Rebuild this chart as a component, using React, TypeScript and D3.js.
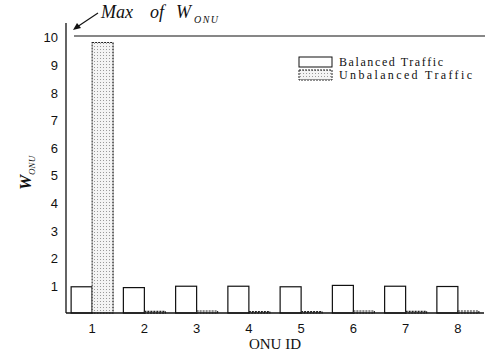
import { useRef, useEffect } from "react";
import * as d3 from "d3";

const onuIds = ["1", "2", "3", "4", "5", "6", "7", "8"];
const balanced = [0.95, 0.92, 0.97, 0.97, 0.95, 1.0, 0.97, 0.96];
const unbalanced = [9.8, 0.06, 0.07, 0.05, 0.05, 0.07, 0.06, 0.07];
const yTicks = [1, 2, 3, 4, 5, 6, 7, 8, 9, 10];
const seriesNames = ["Balanced Traffic", "Unbalanced Traffic"];
const maxW = 10;

const serif = "Liberation Serif, Times New Roman, serif";
const sans = "Liberation Sans, Arial, sans-serif";

export default function App() {
  const svgRef = useRef<SVGSVGElement>(null);

  useEffect(() => {
    if (!svgRef.current) return;
    const width = 485;
    const height = 353;
    const svg = d3.select(svgRef.current);
    svg.selectAll("*").remove();
    svg.attr("width", width).attr("height", height);

    const left = 66;
    const right = 484;
    const x = d3.scaleBand<string>().domain(onuIds).range([left, right]).padding(0);
    const y = d3.scaleLinear().domain([0, 10]).range([313, 37]);
    const barW = 21;

    // dotted fill for the unbalanced bars
    const pat = svg
      .append("defs")
      .append("pattern")
      .attr("id", "dots")
      .attr("width", 3)
      .attr("height", 3)
      .attr("patternUnits", "userSpaceOnUse");
    pat.append("rect").attr("width", 3).attr("height", 3).attr("fill", "#f4f4f4");
    pat.append("rect").attr("x", 1).attr("y", 1).attr("width", 1).attr("height", 1).attr("fill", "#9a9a9a");

    const center = (d: string) => x(d)! + x.bandwidth() / 2;

    // balanced bars (left of tick)
    svg
      .append("g")
      .selectAll("rect")
      .data(balanced)
      .join("rect")
      .attr("x", (_, i) => center(onuIds[i]) - barW)
      .attr("y", (d) => y(d))
      .attr("width", barW)
      .attr("height", (d) => y(0) - y(d))
      .attr("fill", "#fff")
      .attr("stroke", "#111")
      .attr("stroke-width", 1.2);

    // unbalanced bars (right of tick)
    svg
      .append("g")
      .selectAll("rect")
      .data(unbalanced)
      .join("rect")
      .attr("x", (_, i) => center(onuIds[i]))
      .attr("y", (d) => y(d))
      .attr("width", barW)
      .attr("height", (d) => y(0) - y(d))
      .attr("fill", "url(#dots)")
      .attr("stroke", "#222")
      .attr("stroke-width", 1.1)
      .attr("stroke-dasharray", "2,1");

    // axis lines
    svg
      .append("line")
      .attr("x1", left)
      .attr("x2", left)
      .attr("y1", 23)
      .attr("y2", y(0))
      .attr("stroke", "#111")
      .attr("stroke-width", 1.3);
    svg
      .append("line")
      .attr("x1", left)
      .attr("x2", right)
      .attr("y1", y(0))
      .attr("y2", y(0))
      .attr("stroke", "#111")
      .attr("stroke-width", 1.5);

    // max line
    svg
      .append("line")
      .attr("x1", 74)
      .attr("x2", width)
      .attr("y1", y(maxW) - 1)
      .attr("y2", y(maxW) - 1)
      .attr("stroke", "#111")
      .attr("stroke-width", 1.2);

    // y tick labels
    svg
      .append("g")
      .selectAll("text")
      .data(yTicks)
      .join("text")
      .attr("x", 58)
      .attr("y", (d) => y(d) + 2)
      .attr("text-anchor", "end")
      .attr("dominant-baseline", "middle")
      .attr("font-family", sans)
      .attr("font-size", 13)
      .attr("fill", "#111")
      .text((d) => d);

    // x tick labels
    svg
      .append("g")
      .selectAll("text")
      .data(onuIds)
      .join("text")
      .attr("x", (d) => center(d))
      .attr("y", 333)
      .attr("text-anchor", "middle")
      .attr("font-family", sans)
      .attr("font-size", 13)
      .attr("fill", "#111")
      .text((d) => d);

    // x title
    svg
      .append("text")
      .attr("x", 275)
      .attr("y", 349)
      .attr("text-anchor", "middle")
      .attr("font-family", serif)
      .attr("font-size", 15)
      .attr("fill", "#111")
      .text("ONU ID");

    // y title
    const yt = svg
      .append("text")
      .attr("transform", "translate(31,190) rotate(-90)")
      .attr("font-family", serif)
      .attr("font-style", "italic")
      .attr("font-weight", "bold")
      .attr("font-size", 17)
      .attr("fill", "#111");
    yt.append("tspan").text("W");
    yt.append("tspan").attr("font-size", 9).attr("font-weight", "normal").attr("dy", 4).text("ONU");

    // "Max of W_ONU" annotation
    const ann = svg
      .append("g")
      .attr("font-family", serif)
      .attr("font-style", "italic")
      .attr("fill", "#111");
    ann.append("text").attr("x", 101).attr("y", 18).attr("font-size", 18).text("Max");
    ann.append("text").attr("x", 150).attr("y", 18).attr("font-size", 18).text("of");
    ann.append("text").attr("x", 176).attr("y", 18).attr("font-size", 18).text("W");
    ann
      .append("text")
      .attr("x", 194)
      .attr("y", 23)
      .attr("font-size", 10)
      .attr("textLength", 24)
      .attr("lengthAdjust", "spacing")
      .text("ONU");

    svg
      .append("line")
      .attr("x1", 98)
      .attr("y1", 13)
      .attr("x2", 77)
      .attr("y2", 27)
      .attr("stroke", "#111")
      .attr("stroke-width", 1.2);
    svg.append("path").attr("d", "M73,30 L77,23 L81,28 Z").attr("fill", "#111");

    // legend
    const rowH = 13;
    const legend = svg.append("g").attr("transform", "translate(299,57)");
    legend
      .append("rect")
      .attr("width", 33)
      .attr("height", 10)
      .attr("fill", "#fff")
      .attr("stroke", "#111")
      .attr("stroke-width", 1);
    legend
      .append("rect")
      .attr("y", rowH)
      .attr("width", 33)
      .attr("height", 10)
      .attr("fill", "url(#dots)")
      .attr("stroke", "#222")
      .attr("stroke-width", 1)
      .attr("stroke-dasharray", "2,1");
    const legendWidths = [104, 133];
    legend
      .selectAll("text")
      .data(seriesNames)
      .join("text")
      .attr("x", 40)
      .attr("y", (_, i) => 9 + i * rowH)
      .attr("font-family", serif)
      .attr("font-size", 12)
      .attr("textLength", (_, i) => legendWidths[i])
      .attr("lengthAdjust", "spacing")
      .attr("fill", "#111")
      .text((d) => d);
  }, []);

  return (
    <svg
      ref={svgRef}
      width={485}
      height={353}
      style={{ position: "absolute", left: 0, top: 0, background: "#fff" }}
    />
  );
}
